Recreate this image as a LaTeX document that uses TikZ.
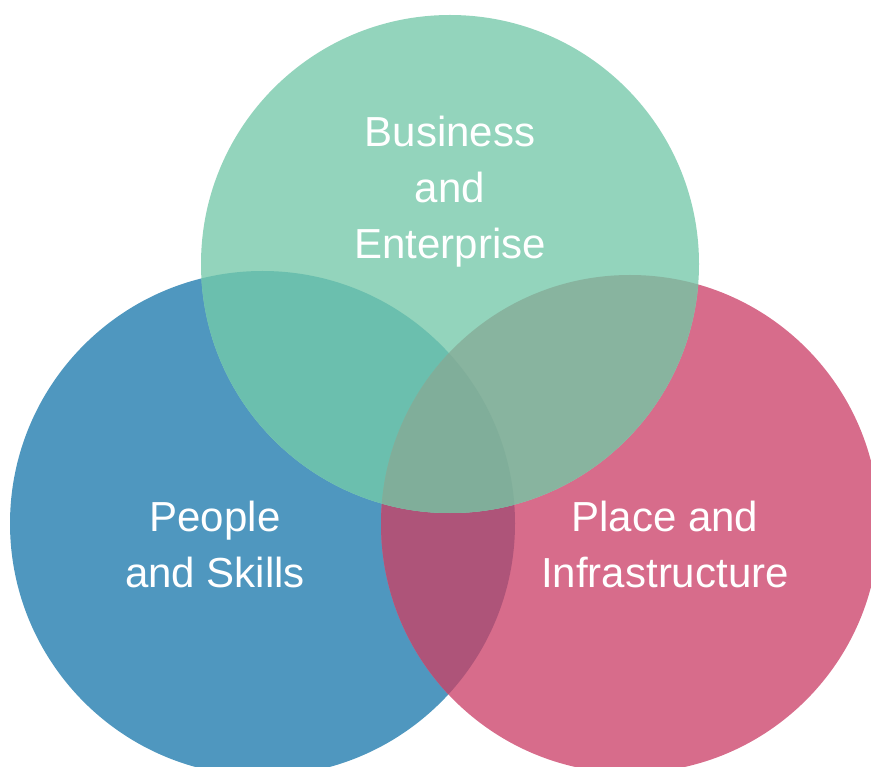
\documentclass[tikz,border=0pt]{standalone}
\usepackage{fontspec}
\setmainfont{Liberation Sans}
\definecolor{cblue}{HTML}{4F97BF}
\definecolor{cgreen}{HTML}{93D4BC}
\definecolor{cpink}{HTML}{D76C8B}
\definecolor{cbg}{HTML}{6BBFAE}
\definecolor{cgp}{HTML}{88B49F}
\definecolor{cbp}{HTML}{AE5479}
\definecolor{call}{HTML}{80AE9A}
\tikzset{
  lbl/.style={text=white, align=center, font=\fontsize{42}{56}\selectfont, inner sep=0pt},
}
\begin{document}
\begin{tikzpicture}[x=1pt,y=-1pt]
\useasboundingbox (0,0) rectangle (871,767);
\clip (0,0) rectangle (871,767);
\def\B{(262.5,523.5) circle[radius=252.5]}
\def\G{(450,264) circle[radius=249]}
\def\P{(630,524) circle[radius=249]}
\fill[cblue] \B;
\fill[cpink] \P;
\begin{scope}\clip \B; \fill[cbp] \P; \end{scope}
\fill[cgreen] \G;
\begin{scope}\clip \G; \fill[cbg] \B; \end{scope}
\begin{scope}\clip \G; \fill[cgp] \P; \end{scope}
\begin{scope}\clip \G; \clip \B; \fill[call] \P; \end{scope}
\node[lbl, anchor=base] (biz) at (450,259) {Business\\and\\Enterprise};
\node[lbl, anchor=base] (ppl) at (215,587) {People\\and Skills};
\node[lbl, anchor=base] (plc) at (665,587) {Place and\\Infrastructure};
\end{tikzpicture}
\end{document}
